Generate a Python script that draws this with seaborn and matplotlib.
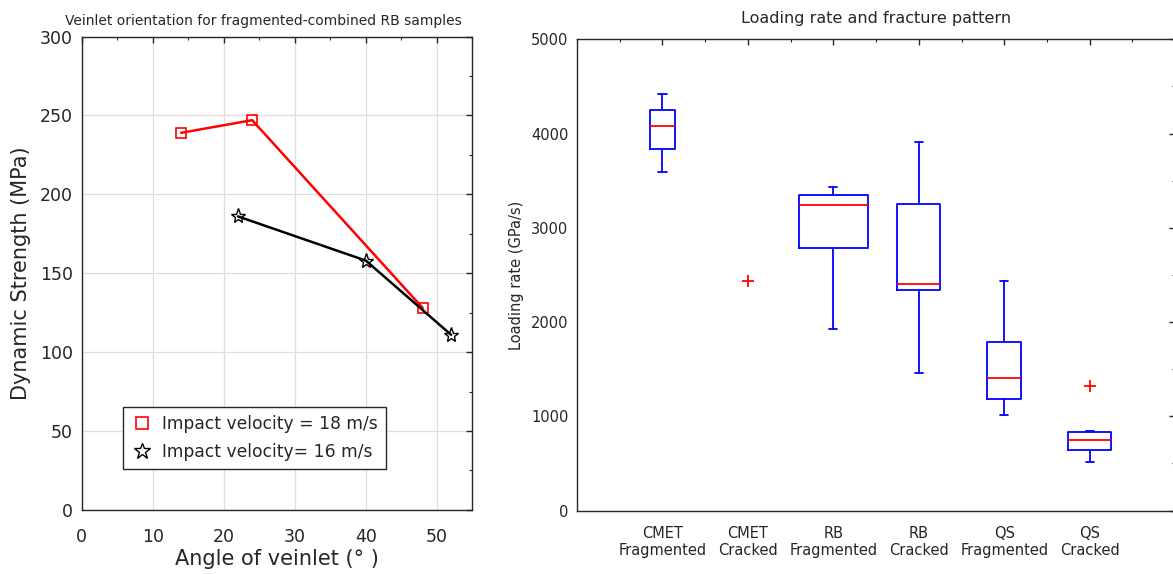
import numpy as np
import seaborn as sns
import matplotlib.pyplot as plt
from matplotlib.lines import Line2D
from matplotlib.ticker import MultipleLocator

# LEFT PANEL DATA: veinlet angle vs dynamic strength
angle_18 = [14, 24, 48]
strength_18 = [239, 247, 128]
angle_16 = [22, 40, 52]
strength_16 = [186, 158, 111]

# RIGHT PANEL DATA: loading-rate box summaries (GPa/s)
groups = ['CMET\nFragmented', 'CMET\nCracked', 'RB\nFragmented',
          'RB\nCracked', 'QS\nFragmented', 'QS\nCracked']
whislo = [3593, np.nan, 1926, 1457, 1017, 515]
q1 = [3837, np.nan, 2781, 2345, 1183, 646]
med = [4082, np.nan, 3245, 2408, 1403, 749]
q3 = [4249, np.nan, 3351, 3250, 1785, 837]
whishi = [4419, np.nan, 3436, 3915, 2434, 840]
outliers = [[], [2433], [], [], [], [1325]]

# box widths as drawn (style)
box_w = [0.30, 0.0, 0.80, 0.50, 0.40, 0.50]

sns.set_style('white')
plt.rcParams['font.family'] = ['DejaVu Sans']
plt.rcParams['text.color'] = '#262626'
plt.rcParams['axes.labelcolor'] = '#262626'
for a in ['xtick', 'ytick']:
    plt.rcParams[a + '.direction'] = 'in'
    plt.rcParams[a + '.color'] = '#262626'
    plt.rcParams[a + '.major.size'] = 4
    plt.rcParams[a + '.minor.size'] = 2.5
    plt.rcParams[a + '.major.width'] = 1.0
    plt.rcParams[a + '.minor.width'] = 0.8

fig = plt.figure(figsize=(11.73, 5.74), dpi=100)
ax1 = fig.add_axes([0.0697, 0.1117, 0.333, 0.8246])
ax2 = fig.add_axes([0.4919, 0.1105, 0.510, 0.8211])

# ---- LEFT: line plot
sns.lineplot(x=angle_18, y=strength_18, ax=ax1, color='red', lw=1.8, sort=False,
             marker='s', ms=7, mfc='none', mec='red', mew=1.2)
sns.lineplot(x=angle_16, y=strength_16, ax=ax1, color='black', lw=1.8, sort=False,
             marker='*', ms=11, mfc='none', mec='black', mew=1.0)
ax1.set_xlim(0, 55)
ax1.set_ylim(0, 300)
ax1.set_xticks(range(0, 51, 10))
ax1.set_yticks(range(0, 301, 50))
ax1.xaxis.set_minor_locator(MultipleLocator(5))
ax1.yaxis.set_minor_locator(MultipleLocator(25))
ax1.grid(True, which='major', color='#dedede', lw=0.9)
ax1.tick_params(which='both', top=True, right=True, labelsize=12.5)
ax1.tick_params(axis='x', which='major', pad=13)
ax1.tick_params(axis='y', which='major', pad=6.5)
ax1.set_xlabel('Angle of veinlet (° )', fontsize=15, labelpad=2)
ax1.set_ylabel('Dynamic Strength (MPa)', fontsize=15, labelpad=6)
ax1.set_title('Veinlet orientation for fragmented-combined RB samples', fontsize=10,
              pad=8, x=0.465)
handles = [Line2D([], [], ls='none', marker='s', ms=8, mfc='none', mec='red', mew=1.2),
           Line2D([], [], ls='none', marker='*', ms=12, mfc='none', mec='black', mew=1.0)]
leg = ax1.legend(handles, ['Impact velocity = 18 m/s', 'Impact velocity= 16 m/s'],
                 loc='lower left', bbox_to_anchor=(0.105, 0.086), borderaxespad=0,
                 fontsize=12.3, fancybox=False, framealpha=1, edgecolor='#262626',
                 handlelength=1.2, handletextpad=0.6, borderpad=0.5, labelspacing=0.55)
leg.get_frame().set_linewidth(1.0)

# ---- RIGHT: box plot
stats = []
pos = []
wid = []
for i, g in enumerate(groups):
    if np.isnan(med[i]):
        continue
    stats.append(dict(med=med[i], q1=q1[i], q3=q3[i], whislo=whislo[i],
                      whishi=whishi[i], fliers=[]))
    pos.append(i + 1)
    wid.append(box_w[i])
ax2.bxp(stats, positions=pos, widths=wid, capwidths=0.095, showfliers=False,
        boxprops=dict(color='blue', lw=1.3),
        whiskerprops=dict(color='blue', lw=1.3, ls='-'),
        capprops=dict(color='blue', lw=1.3),
        medianprops=dict(color='red', lw=1.3))
for i, fl in enumerate(outliers):
    if fl:
        ax2.plot([i + 1] * len(fl), fl, ls='none', marker='+', color='red', ms=8, mew=1.3)
ax2.set_xlim(0, 7)
ax2.set_ylim(0, 5000)
ax2.set_xticks(range(1, 7))
ax2.set_xticklabels(groups)
ax2.set_yticks(range(0, 5001, 1000))
ax2.xaxis.set_minor_locator(MultipleLocator(0.5))
ax2.yaxis.set_minor_locator(MultipleLocator(500))
ax2.tick_params(which='both', top=True, right=True, labelsize=10.5)
ax2.tick_params(axis='x', which='major', pad=11)
ax2.tick_params(axis='y', which='major', pad=6)
ax2.set_ylabel('Loading rate (GPa/s)', fontsize=10.5, labelpad=5)
ax2.set_title('Loading rate and fracture pattern', fontsize=11.5, pad=12)

for ax in (ax1, ax2):
    for sp in ax.spines.values():
        sp.set_color('#262626')
        sp.set_linewidth(1.0)

fig.savefig('out.png', dpi=100)
